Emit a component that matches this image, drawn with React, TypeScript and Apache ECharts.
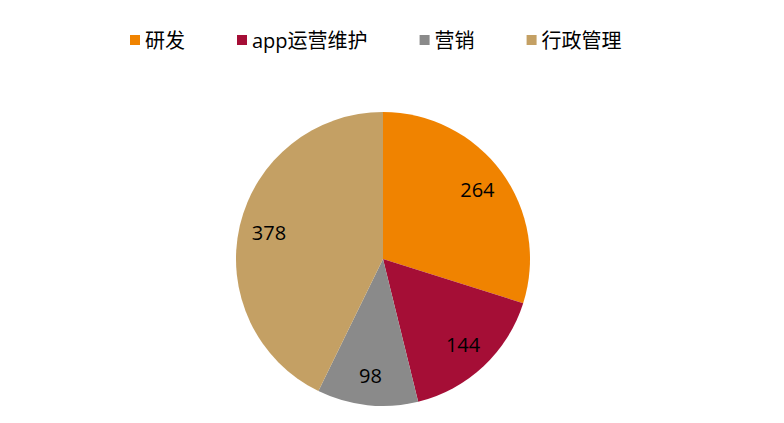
import { useEffect, useRef } from "react";
import * as echarts from "echarts";

const CATEGORIES = ["研发", "app运营维护", "营销", "行政管理"];
const VALUES = [264, 144, 98, 378];
const COLORS = ["#F08300", "#A50E36", "#8A8A8A", "#C4A064"];

const FONT = "'Open Sans', 'Noto Sans CJK SC', sans-serif";

export default function App() {
  const chartRef = useRef<HTMLDivElement>(null);

  useEffect(() => {
    if (!chartRef.current) {
      return;
    }
    const chart = echarts.init(chartRef.current, undefined, { renderer: "svg" });

    const data = CATEGORIES.map((name, i) => ({
      name,
      value: VALUES[i],
      itemStyle: { color: COLORS[i] },
    }));

    chart.setOption({
      animation: false,
      backgroundColor: "#ffffff",
      legend: {
        top: 25,
        left: 125,
        itemWidth: 10,
        itemHeight: 10,
        itemGap: 52,
        icon: "rect",
        textStyle: {
          color: "#000000",
          fontSize: 20,
          fontFamily: FONT,
        },
        data: CATEGORIES,
      },
      series: [
        {
          name: "main",
          type: "pie",
          center: [383, 259],
          radius: [0, 147],
          startAngle: 90,
          clockwise: true,
          label: { show: false },
          labelLine: { show: false },
          itemStyle: { borderWidth: 0 },
          emphasis: { disabled: true },
          data,
        },
        {
          name: "labels",
          type: "pie",
          center: [383, 259],
          radius: [81, 147],
          startAngle: 90,
          clockwise: true,
          silent: true,
          legendHoverLink: false,
          itemStyle: { color: "transparent", borderWidth: 0 },
          label: {
            show: true,
            position: "inside",
            formatter: "{c}",
            color: "#000000",
            fontSize: 20,
            fontFamily: FONT,
          },
          labelLine: { show: false },
          data: CATEGORIES.map((name, i) => ({
            name: name + " ",
            value: VALUES[i],
            itemStyle: { color: "rgba(0,0,0,0)" },
          })),
        },
      ],
    });

    return () => {
      chart.dispose();
    };
  }, []);

  return (
    <div
      ref={chartRef}
      style={{
        position: "fixed",
        left: 0,
        top: 0,
        width: 784,
        height: 423,
      }}
    />
  );
}
